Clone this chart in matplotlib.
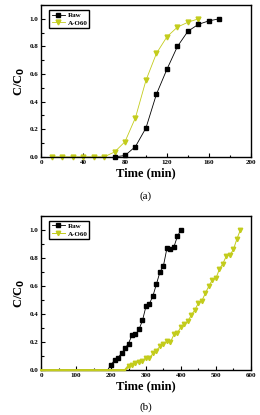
import matplotlib
matplotlib.use("Agg")
from matplotlib import pyplot as plt
from matplotlib.ticker import MultipleLocator

plt.rcParams["font.family"] = ["Liberation Serif", "DejaVu Serif"]
plt.rcParams["font.weight"] = "bold"

YELLOW = "#c3cc1c"

# panel (a)
a_raw_t = [70, 80, 90, 100, 110, 120, 130, 140, 150, 160, 170]
a_raw_c = [0.0, 0.01, 0.075, 0.21, 0.455, 0.635, 0.80, 0.91, 0.96, 0.985, 1.0]
a_ao_t = [10, 20, 30, 40, 50, 60, 70, 80, 90, 100, 110, 120, 130, 140, 150]
a_ao_c = [0.0, 0.0, 0.0, 0.0, 0.0, 0.0, 0.035, 0.11, 0.285, 0.555, 0.75, 0.87, 0.94, 0.975, 1.0]

# panel (b)
b_raw_t = [0, 10, 20, 30, 40, 50, 60, 70, 80, 90, 100, 110, 120, 130, 140, 150, 160, 170, 180, 190,
           200, 210, 220, 230, 240, 250, 260, 270, 280, 290, 300, 310, 320, 330, 340, 350, 360, 370,
           380, 390, 400]
b_raw_c = [0.0] * 20 + [0.04, 0.07, 0.09, 0.12, 0.155, 0.19, 0.25, 0.255, 0.29, 0.355, 0.455, 0.475,
                        0.53, 0.615, 0.70, 0.745, 0.87, 0.86, 0.88, 0.955, 1.0]
b_ao_t = [0, 10, 20, 30, 40, 50, 60, 70, 80, 90, 100, 110, 120, 130, 140, 150, 160, 170, 180, 190,
          200, 210, 220, 230, 240, 250, 260, 270, 280, 290, 300, 310, 320, 330, 340, 350, 360, 370,
          380, 390, 400, 410, 420, 430, 440, 450, 460, 470, 480, 490, 500, 510, 520, 530, 540, 550,
          560, 570]
b_ao_c = [0.0] * 25 + [0.03, 0.04, 0.05, 0.06, 0.065, 0.09, 0.085, 0.12, 0.14, 0.17, 0.19, 0.205,
                       0.20, 0.255, 0.265, 0.31, 0.33, 0.35, 0.395, 0.43, 0.48, 0.495, 0.55, 0.60,
                       0.645, 0.655, 0.72, 0.76, 0.815, 0.82, 0.86, 0.935, 1.0]

fig = plt.figure(figsize=(2.6, 4.15), dpi=100)
ax1 = fig.add_axes([0.158, 0.622, 0.807, 0.366])
ax2 = fig.add_axes([0.158, 0.108, 0.807, 0.372])


def style(ax, xmax, xmajor, xminor):
    ax.set_xlim(0, xmax)
    ax.set_ylim(0, 1.1)
    ax.xaxis.set_major_locator(MultipleLocator(xmajor))
    ax.xaxis.set_minor_locator(MultipleLocator(xminor))
    ax.yaxis.set_major_locator(MultipleLocator(0.2))
    ax.yaxis.set_minor_locator(MultipleLocator(0.1))
    ax.tick_params(which="both", direction="in", labelsize=5, width=0.8, pad=2)
    ax.tick_params(which="major", length=3)
    ax.tick_params(which="minor", length=1.8)
    ax.yaxis.set_major_formatter(matplotlib.ticker.FormatStrFormatter("%.1f"))
    for s in ax.spines.values():
        s.set_linewidth(1.0)
    ax.set_xlabel("Time (min)", fontsize=9, fontweight="bold", labelpad=2)
    ax.set_ylabel("C/C$_\\mathbf{0}$", fontsize=9, fontweight="bold", labelpad=2)
    ax.legend(loc="upper left", fontsize=5, frameon=True, fancybox=False,
              edgecolor="black", handlelength=2.0, borderpad=0.3, labelspacing=0.25,
              handletextpad=0.3, borderaxespad=0.3, framealpha=1,
              bbox_to_anchor=(0.03, 0.98))


ax1.plot(a_raw_t, a_raw_c, color="black", lw=0.6, marker="s", ms=3, label="Raw", clip_on=False, zorder=3)
ax1.plot(a_ao_t, a_ao_c, color=YELLOW, lw=0.6, marker="v", ms=3.5, label="A-O60", clip_on=False, zorder=2)
style(ax1, 200, 40, 20)
ax1.text(0.5, -0.26, "(a)", transform=ax1.transAxes, ha="center", va="center",
         fontsize=8, fontweight="normal")

ax2.plot(b_raw_t, b_raw_c, color="black", lw=0.6, marker="s", ms=2.8, label="Raw", zorder=3,
         markevery=list(range(20, len(b_raw_t))))
ax2.plot(b_ao_t[:26], b_ao_c[:26], color=YELLOW, lw=1.6, zorder=4, clip_on=False)
ax2.plot(b_ao_t, b_ao_c, color=YELLOW, lw=0.7, marker="v", ms=3.2, label="A-O60", zorder=2,
         markevery=list(range(25, len(b_ao_t))))
style(ax2, 600, 100, 50)
ax2.text(0.5, -0.24, "(b)", transform=ax2.transAxes, ha="center", va="center",
         fontsize=8, fontweight="normal")

plt.savefig("out.png", dpi=100)
